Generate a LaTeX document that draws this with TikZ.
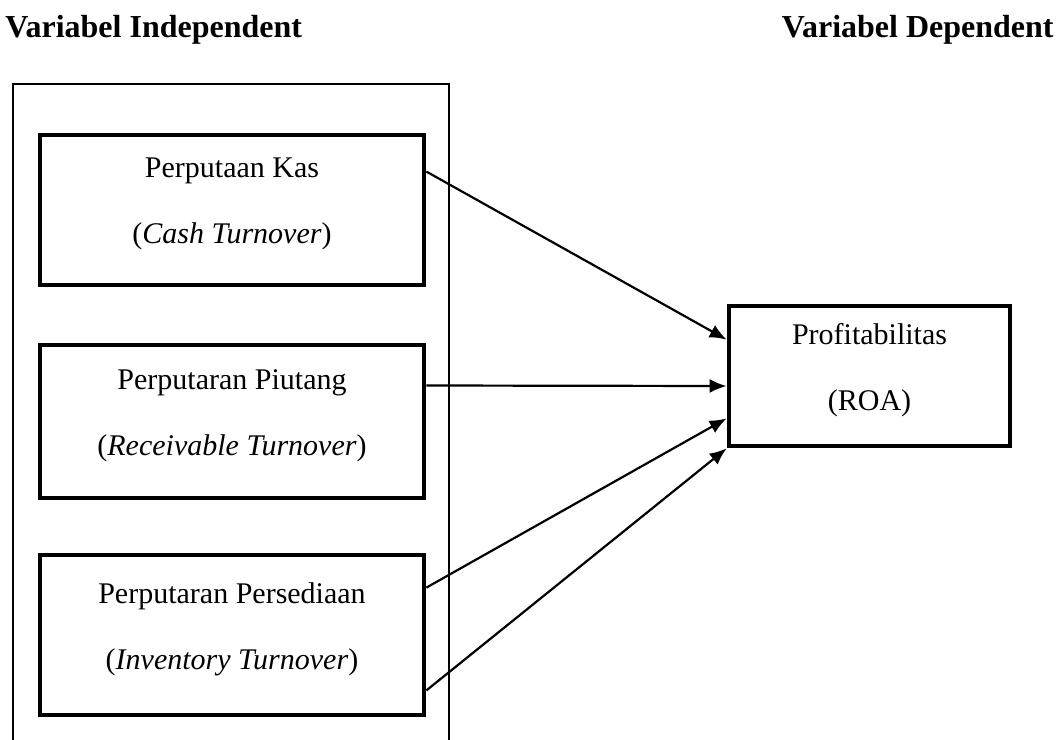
\documentclass[tikz,border=0pt]{standalone}
\usepackage{fontspec}
\setmainfont{Liberation Serif}
\usetikzlibrary{arrows.meta}
\tikzset{%
	varbox/.style={draw,line width=2.4pt,minimum width=192pt,align=center,inner sep=0pt,text depth=9pt,font=\fontsize{15}{33}\selectfont},
	judul/.style={inner sep=0pt,font=\fontsize{16}{19}\selectfont\bfseries},
	bingkai/.style={line width=0.6pt},
	panah/.style={-{Latex[length=8.5pt,width=7pt]},line width=1.1pt},
}

\begin{document}
\begin{tikzpicture}[x=0.5pt,y=-0.5pt]
	\useasboundingbox (0,0) rectangle (1057,740);
	\node[judul,anchor=base west] (indep) at (5,37) {Variabel Independent};
	\node[judul,anchor=base east] (dep) at (1054,37) {Variabel Dependent};
	\draw[bingkai] (13,742) -- (13,84) -- (449,84) -- (449,742);
	\node[varbox,minimum height=75pt] (kas) at (232,210) {Perputaan Kas\\(\textit{Cash Turnover})};
	\node[varbox,minimum height=76.5pt] (piutang) at (232,421.5) {Perputaran Piutang\\(\textit{Receivable Turnover})};
	\node[varbox,minimum height=80pt] (sedia) at (232,635) {Perputaran Persediaan\\(\textit{Inventory Turnover})};
	\node[varbox,minimum width=140.5pt,minimum height=70pt] (roa) at (869.5,376) {Profitabilitas\\(ROA)};
	\draw[panah] ([yshift=-19.5pt]kas.north east) -- ([yshift=-18pt]roa.north west);
	\draw[panah] ([yshift=18pt]piutang.east) -- ([yshift=-5pt]roa.west);
	\draw[panah] ([yshift=-17.5pt]sedia.north east) -- ([yshift=15pt]roa.south west);
	\draw[panah] ([yshift=13.5pt]sedia.south east) -- (roa.south west);
\end{tikzpicture}
\end{document}
